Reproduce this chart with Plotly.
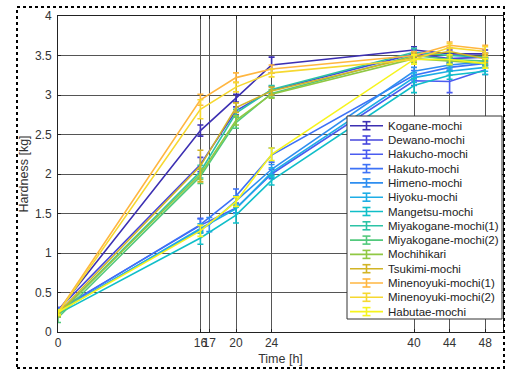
import plotly.graph_objects as go

# ---- data ----
varieties = ["Kogane-mochi", "Dewano-mochi", "Hakucho-mochi", "Hakuto-mochi",
             "Himeno-mochi", "Hiyoku-mochi", "Mangetsu-mochi",
             "Miyakogane-mochi(1)", "Miyakogane-mochi(2)", "Mochihikari",
             "Tsukimi-mochi", "Minenoyuki-mochi(1)", "Minenoyuki-mochi(2)",
             "Habutae-mochi"]

times_std = [0, 16, 20, 24, 40, 44, 48]
times_17 = [0, 17, 20, 24, 40, 44, 48]

times = [times_std, times_std, times_std, times_std, times_17, times_std, times_std,
         times_std, times_std, times_std, times_std, times_std, times_std, times_std]

hardness = [
    [0.27, 2.55, 2.96, 3.38, 3.57, 3.52, 3.52],  # Kogane
    [0.28, 2.12, 2.80, 3.06, 3.52, 3.46, 3.48],  # Dewano
    [0.28, 1.35, 1.57, 2.00, 3.18, 3.17, 3.32],  # Hakucho
    [0.27, 1.36, 1.72, 2.24, 3.25, 3.35, 3.40],  # Hakuto
    [0.26, 1.36, 1.66, 2.06, 3.30, 3.38, 3.42],  # Himeno
    [0.25, 1.31, 1.56, 2.02, 3.22, 3.30, 3.35],  # Hiyoku
    [0.23, 1.19, 1.48, 1.92, 3.12, 3.25, 3.30],  # Mangetsu
    [0.22, 2.03, 2.77, 3.07, 3.54, 3.50, 3.48],  # Miyakogane(1)
    [0.18, 1.97, 2.65, 3.02, 3.50, 3.45, 3.43],  # Miyakogane(2)
    [0.22, 2.00, 2.68, 3.01, 3.46, 3.43, 3.40],  # Mochihikari
    [0.24, 2.10, 2.84, 3.05, 3.48, 3.55, 3.46],  # Tsukimi
    [0.25, 2.94, 3.22, 3.33, 3.50, 3.63, 3.58],  # Minenoyuki(1)
    [0.24, 2.82, 3.10, 3.28, 3.45, 3.60, 3.55],  # Minenoyuki(2)
    [0.25, 1.28, 1.65, 2.25, 3.45, 3.45, 3.40],  # Habutae
]

errors = [
    [0.03, 0.07, 0.05, 0.10, 0.04, 0.05, 0.05],
    [0.03, 0.09, 0.05, 0.05, 0.05, 0.05, 0.05],
    [0.03, 0.09, 0.06, 0.06, 0.06, 0.14, 0.06],
    [0.03, 0.07, 0.09, 0.09, 0.06, 0.05, 0.06],
    [0.03, 0.09, 0.06, 0.06, 0.05, 0.05, 0.05],
    [0.03, 0.06, 0.06, 0.06, 0.06, 0.05, 0.05],
    [0.03, 0.08, 0.10, 0.06, 0.09, 0.05, 0.04],
    [0.03, 0.08, 0.05, 0.05, 0.05, 0.04, 0.05],
    [0.06, 0.09, 0.07, 0.05, 0.04, 0.05, 0.05],
    [0.03, 0.07, 0.06, 0.05, 0.05, 0.05, 0.05],
    [0.03, 0.20, 0.06, 0.05, 0.05, 0.05, 0.05],
    [0.03, 0.07, 0.06, 0.05, 0.05, 0.04, 0.05],
    [0.03, 0.12, 0.06, 0.05, 0.06, 0.05, 0.06],
    [0.03, 0.07, 0.06, 0.08, 0.06, 0.06, 0.06],
]

colors = ["#3C2FB2", "#4646DC", "#4A5CF0", "#3D72F6", "#2E8EF0", "#1EADE6",
          "#10BEC8", "#2CC3A6", "#52C97C", "#90C843", "#D2B425", "#FFB640",
          "#F6D830", "#F6F41E"]

x_ticks = [0, 16, 17, 20, 24, 40, 44, 48]
y_ticks = [0, 0.5, 1, 1.5, 2, 2.5, 3, 3.5, 4]

FONT = "Liberation Sans"

W, H = 509, 371
ML, MR, MT, MB = 58, 6, 16, 39
PW, PH = W - ML - MR, H - MT - MB


def px_x(px):
    return (px - ML) / PW


def px_y(py):
    return (H - MB - py) / PH


fig = go.Figure()
for name, t, v, e, c in zip(varieties, times, hardness, errors, colors):
    fig.add_trace(go.Scatter(
        x=t, y=v, name=name, mode="lines",
        line=dict(color=c, width=1.6),
        error_y=dict(type="data", array=e, visible=True, color=c,
                     thickness=1.6, width=3),
    ))

shapes = []
annotations = []

# outer dotted frame
shapes.append(dict(type="rect", xref="paper", yref="paper",
                   x0=px_x(17), x1=px_x(504), y0=px_y(368), y1=px_y(7),
                   line=dict(color="black", width=2, dash="dot"), layer="above"))

# legend box (drawn with shapes + annotations)
lg_left, lg_right, lg_top, lg_bottom = 347, 502, 116, 319
shapes.append(dict(type="rect", xref="paper", yref="paper",
                   x0=px_x(lg_left), x1=px_x(lg_right),
                   y0=px_y(lg_bottom), y1=px_y(lg_top),
                   fillcolor="white", line=dict(color="#333333", width=1),
                   layer="above"))
row0, step = 125.7, 14.3
for i, (name, c) in enumerate(zip(varieties, colors)):
    yy = row0 + i * step
    shapes.append(dict(type="line", xref="paper", yref="paper",
                       x0=px_x(350), x1=px_x(383), y0=px_y(yy), y1=px_y(yy),
                       line=dict(color=c, width=1.6), layer="above"))
    shapes.append(dict(type="line", xref="paper", yref="paper",
                       x0=px_x(366.5), x1=px_x(366.5),
                       y0=px_y(yy - 4), y1=px_y(yy + 4),
                       line=dict(color=c, width=1.6), layer="above"))
    for cap in (yy - 4, yy + 4):
        shapes.append(dict(type="line", xref="paper", yref="paper",
                           x0=px_x(362.5), x1=px_x(370.5),
                           y0=px_y(cap), y1=px_y(cap),
                           line=dict(color=c, width=1.6), layer="above"))
    annotations.append(dict(text=name, xref="paper", yref="paper",
                            x=px_x(386), y=px_y(yy), xanchor="left",
                            yanchor="middle", showarrow=False,
                            font=dict(family=FONT, size=11.5, color="#222222")))

fig.update_layout(
    width=W, height=H,
    margin=dict(l=ML, r=MR, t=MT, b=MB, autoexpand=False),
    paper_bgcolor="white", plot_bgcolor="white",
    font=dict(family=FONT, size=12, color="#333333"),
    showlegend=False,
    shapes=shapes, annotations=annotations,
    xaxis=dict(range=[0, 50], tickmode="array", tickvals=x_ticks,
               ticktext=[str(v) for v in x_ticks], tickangle=0,
               automargin=False,
               showgrid=True, gridcolor="#555555", gridwidth=1,
               zeroline=False, showline=True, linecolor="#222222",
               linewidth=1, mirror="allticks", ticks="inside", ticklen=3,
               tickcolor="#222222",
               title=dict(text="Time [h]", standoff=4,
                          font=dict(family=FONT, size=12.5, color="#333333"))),
    yaxis=dict(range=[0, 4], tickmode="array", tickvals=y_ticks,
               ticktext=["0", "0.5", "1", "1.5", "2", "2.5", "3", "3.5", "4"],
               automargin=False, ticklabelstandoff=3,
               showgrid=True, gridcolor="#555555", gridwidth=1,
               zeroline=False, showline=True, linecolor="#222222",
               linewidth=1, mirror="allticks", ticks="inside", ticklen=3,
               tickcolor="#222222",
               title=dict(text="Hardness [kg]", standoff=3,
                          font=dict(family=FONT, size=12.5, color="#333333"))),
)

fig.write_html("out.html", config={"displayModeBar": False},
               post_script="document.body.style.margin='0';")
